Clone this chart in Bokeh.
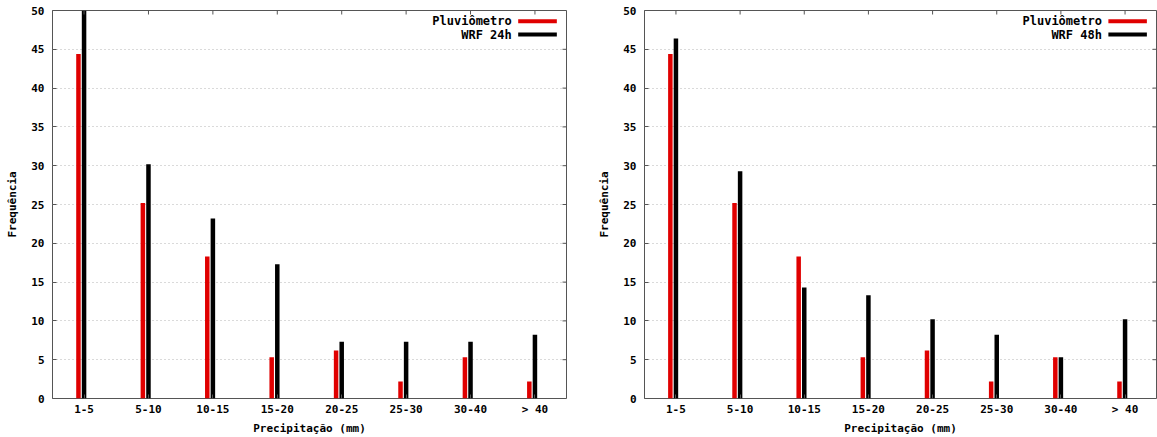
from bokeh.plotting import figure
from bokeh.layouts import row
from bokeh.models import Range1d, FixedTicker, ColumnDataSource, Label
from bokeh.embed import file_html
from bokeh.resources import INLINE

# Precipitation classes (mm)
categories = ["1-5", "5-10", "10-15", "15-20", "20-25", "25-30", "30-40", "> 40"]

# Frequency of each class (%)
pluviometro = [44.4, 25.2, 18.3, 5.3, 6.2, 2.2, 5.3, 2.2]
wrf_24h = [51.0, 30.2, 23.2, 17.3, 7.3, 7.3, 7.3, 8.2]
wrf_48h = [46.4, 29.3, 14.3, 13.3, 10.2, 8.2, 5.3, 10.2]

y_ticks = list(range(0, 51, 5))

FONT = "DejaVu Sans Mono"
FSIZE = "11px"
KEY_FSIZE = "12px"
RED = "#e00000"
BORDER = "#555555"

X_LO, X_HI = -0.49, 7.49
Y_LO, Y_HI = 0, 50
HEIGHT = 437
B_LEFT, B_TOP, B_BOTTOM = 52, 10, 39


def make_panel(model_name, model_values, width, border_right):
    idx = list(range(len(categories)))
    src = ColumnDataSource(dict(
        x_obs=[i - 0.087 for i in idx],
        x_mod=idx,
        obs=pluviometro,
        mod=model_values,
    ))

    p = figure(width=width, height=HEIGHT, output_backend="svg", toolbar_location=None,
               x_range=Range1d(X_LO, X_HI), y_range=Range1d(Y_LO, Y_HI),
               min_border_left=B_LEFT, min_border_right=border_right,
               min_border_top=B_TOP, min_border_bottom=B_BOTTOM,
               background_fill_color="white", border_fill_color="white")
    p.outline_line_color = BORDER
    p.outline_line_width = 1

    # grid: dotted horizontal lines only
    p.xgrid.grid_line_color = None
    p.ygrid.grid_line_color = "#b4b4b4"
    p.ygrid.grid_line_dash = "1 3"
    p.ygrid.grid_line_width = 1

    p.vbar(x="x_obs", top="obs", bottom=0, width=0.07, source=src,
           fill_color=RED, line_color=None)
    p.vbar(x="x_mod", top="mod", bottom=0, width=0.07, source=src,
           fill_color="black", line_color=None)

    # axes
    xa = p.xaxis[0]
    xa.ticker = FixedTicker(ticks=idx)
    xa.major_label_overrides = {i: c for i, c in enumerate(categories)}
    ya = p.yaxis[0]
    ya.ticker = FixedTicker(ticks=y_ticks)
    for ax in (xa, ya):
        ax.axis_line_color = None
        ax.major_tick_in = 4
        ax.major_tick_out = 0
        ax.major_tick_line_color = BORDER
        ax.minor_tick_line_color = None
        ax.major_label_text_font = FONT
        ax.major_label_text_font_style = "bold"
        ax.major_label_text_font_size = FSIZE
        ax.major_label_text_color = "black"
        ax.axis_label_text_font = FONT
        ax.axis_label_text_font_style = "bold"
        ax.axis_label_text_font_size = FSIZE
        ax.axis_label_text_color = "black"
    xa.axis_label = "Precipitação (mm)"
    xa.major_label_standoff = 4
    xa.axis_label_standoff = 3
    ya.axis_label = "Frequência"
    ya.major_label_standoff = 8
    ya.axis_label_standoff = 9

    # mirrored tick marks along the top and right borders (4 px, pointing inward)
    frame_w = width - B_LEFT - border_right
    frame_h = HEIGHT - B_TOP - B_BOTTOM
    dx = 4 * (X_HI - X_LO) / frame_w
    dy = 4 * (Y_HI - Y_LO) / frame_h
    p.segment(x0=idx, y0=[Y_HI] * len(idx), x1=idx, y1=[Y_HI - dy] * len(idx),
              line_color=BORDER, line_width=1)
    p.segment(x0=[X_HI] * len(y_ticks), y0=y_ticks, x1=[X_HI - dx] * len(y_ticks),
              y1=y_ticks, line_color=BORDER, line_width=1)

    # key in the top-right corner: label then line sample
    for name, color, ky in (("Pluviômetro", RED, 48.6), (model_name, "black", 46.9)):
        p.add_layout(Label(x=6.64, y=ky, text=name, text_align="right",
                           text_baseline="middle", text_font=FONT,
                           text_font_style="bold", text_font_size=KEY_FSIZE,
                           text_color="black"))
        p.segment(x0=[6.74], y0=[ky], x1=[7.34], y1=[ky], line_color=color,
                  line_width=4)
    return p


p1 = make_panel("WRF 24h", wrf_24h, 592, 26)
p2 = make_panel("WRF 48h", wrf_48h, 565, 1)
layout = row(p1, p2)

open("out.html", "w").write(file_html(layout, INLINE))
